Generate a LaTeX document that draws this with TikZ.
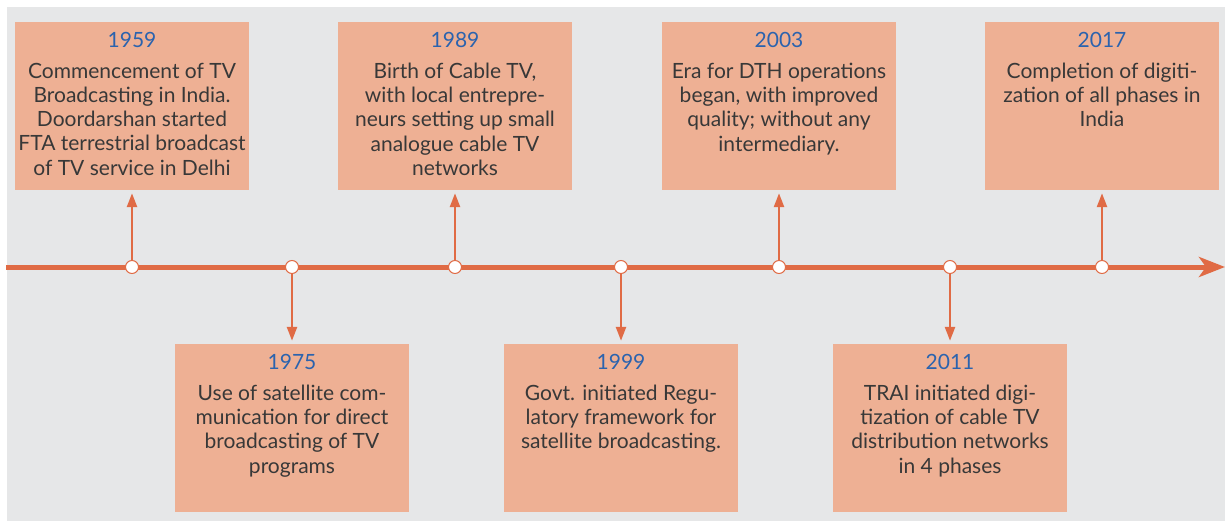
\documentclass[tikz,border=0pt]{standalone}
\usepackage{fontspec}
\setmainfont{Lato}
\usetikzlibrary{positioning,arrows.meta}
\definecolor{bggray}{HTML}{E6E7E8}
\definecolor{boxsalmon}{HTML}{EEB094}
\definecolor{lineorange}{HTML}{E06B45}
\definecolor{yearblue}{HTML}{2B63AE}
\definecolor{textgray}{HTML}{383838}
\tikzset{%
  every event/.style={
    rectangle,
    fill=boxsalmon,
    minimum width=234pt,
    minimum height=168pt,
    inner sep=0pt
  },
  every year/.style={
    text=yearblue,
    inner sep=0pt,
    font=\fontsize{21}{24}\selectfont
  },
  event text/.style={
    text=textgray,
    align=center,
    inner sep=0pt,
    font=\fontsize{21}{24.3}\selectfont
  },
  every dot/.style={
    circle,
    draw=lineorange,
    fill=white,
    line width=1pt,
    minimum size=13pt,
    inner sep=0pt
  },
  stem/.style={
    draw=lineorange,
    line width=2.5pt,
    -{Triangle[width=10pt,length=14pt]}
  },
}
\begin{document}
\begin{tikzpicture}[x=1pt, y=-1pt]

\useasboundingbox (0,0) rectangle (1225,524);
\fill[bggray] (7,7) rectangle (1225,521);

% Timeline
\coordinate (start) at (6,267);
\coordinate (end) at (1225,267);
\draw[lineorange, line width=5pt, -{Stealth[length=26pt,width=20pt,inset=7pt]}] (start) -- (end);

% Events above the line
\foreach \yr/\x/\txt in {
  1959/132/{Commencement of TV\\Broadcasting in India.\\Doordarshan started\\FTA terrestrial broadcast\\of TV service in Delhi},
  1989/455/{Birth of Cable TV,\\with local entrepre-\\neurs setting up small\\analogue cable TV\\networks},
  2003/779/{Era for DTH operations\\began, with improved\\quality; without any\\intermediary.},
  2017/1102/{Completion of digiti-\\zation of all phases in\\India}}
{
  \node [every event/.try] (ev-\yr) at (\x,106) {};
  \node [every year/.try, below=10pt of ev-\yr.north] (yr-\yr) {\yr};
  \node [event text, below=15pt of yr-\yr.south] (tx-\yr) {\txt};
  \node [every dot/.try] (dot-\yr) at (\x,267) {};
  \draw [stem, shorten >=3pt] (dot-\yr) -- (ev-\yr.south);
}

% Events below the line
\foreach \yr/\x/\txt in {
  1975/292/{Use of satellite com-\\munication for direct\\broadcasting of TV\\programs},
  1999/621/{Govt. initiated Regu-\\latory framework for\\satellite broadcasting.},
  2011/950/{TRAI initiated digi-\\tization of cable TV\\distribution networks\\in 4 phases}}
{
  \node [every event/.try] (ev-\yr) at (\x,428) {};
  \node [every year/.try, below=10pt of ev-\yr.north] (yr-\yr) {\yr};
  \node [event text, below=15pt of yr-\yr.south] (tx-\yr) {\txt};
  \node [every dot/.try] (dot-\yr) at (\x,267) {};
  \draw [stem, shorten >=3pt] (dot-\yr) -- (ev-\yr.north);
}

\end{tikzpicture}
\end{document}
